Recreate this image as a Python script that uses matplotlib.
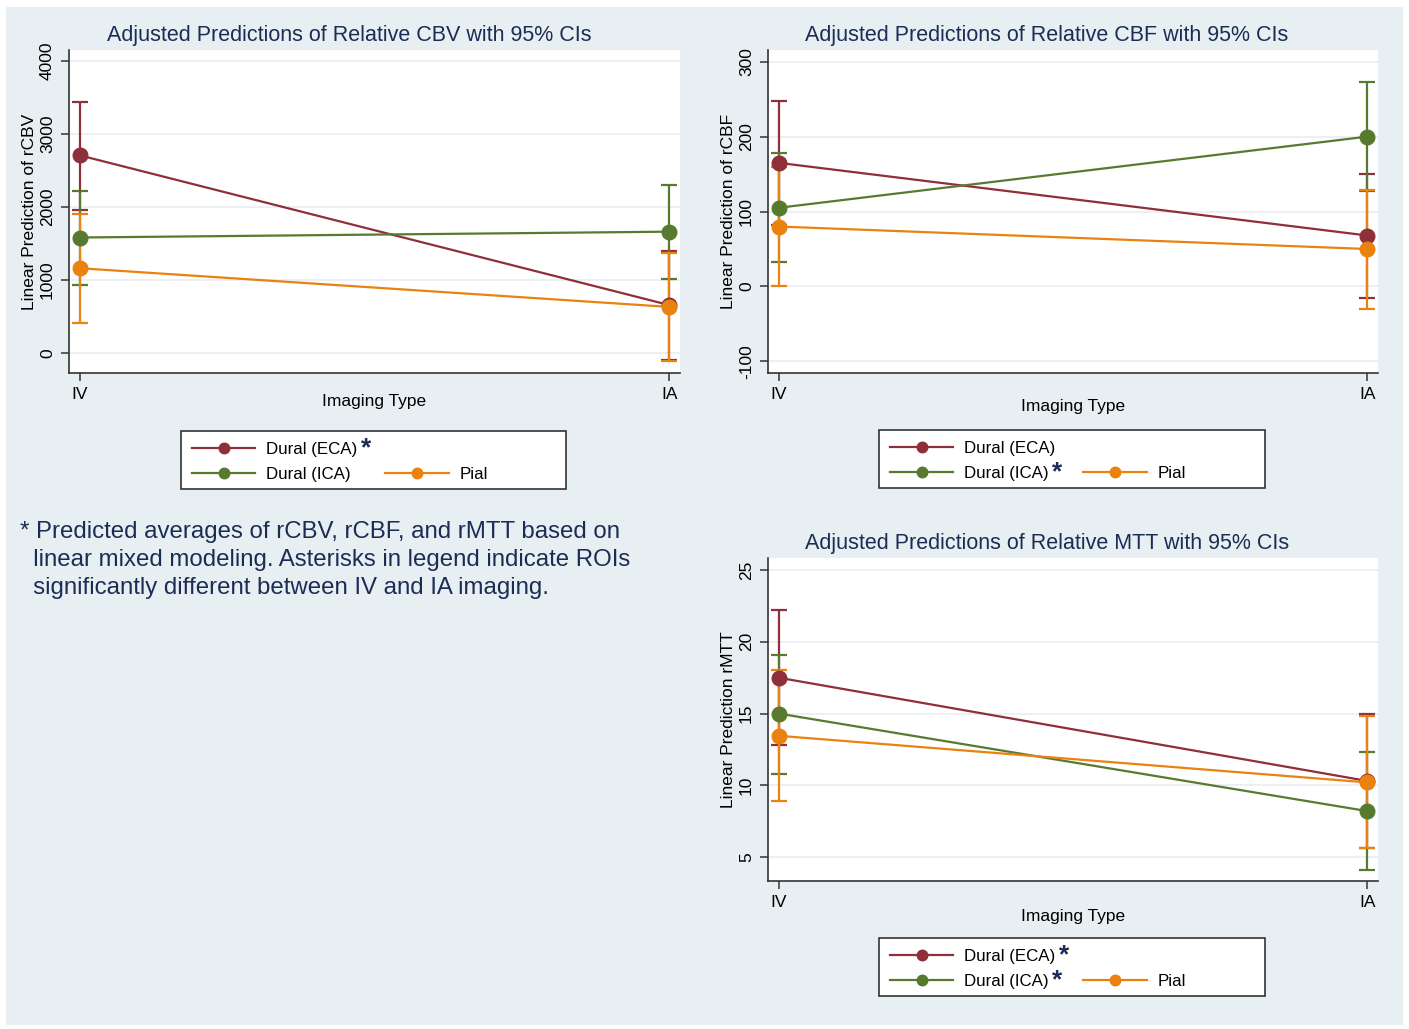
import matplotlib
matplotlib.use("Agg")
import matplotlib.pyplot as plt
from matplotlib.lines import Line2D
from matplotlib.patches import Rectangle

plt.rcParams["font.family"] = ["Liberation Sans", "DejaVu Sans"]

imaging = ["IV", "IA"]
groups = ["Dural (ECA)", "Dural (ICA)", "Pial"]

cbv_mean = {"Dural (ECA)": [2705, 655], "Dural (ICA)": [1580, 1660], "Pial": [1160, 630]}
cbv_lo = {"Dural (ECA)": [1950, -90], "Dural (ICA)": [935, 1010], "Pial": [415, -105]}
cbv_hi = {"Dural (ECA)": [3440, 1400], "Dural (ICA)": [2220, 2295], "Pial": [1905, 1365]}

cbf_mean = {"Dural (ECA)": [165, 68], "Dural (ICA)": [105, 200], "Pial": [80, 50]}
cbf_lo = {"Dural (ECA)": [82, -15], "Dural (ICA)": [33, 128], "Pial": [0, -30]}
cbf_hi = {"Dural (ECA)": [248, 150], "Dural (ICA)": [178, 273], "Pial": [160, 129]}

mtt_mean = {"Dural (ECA)": [17.5, 10.3], "Dural (ICA)": [15.0, 8.2], "Pial": [13.45, 10.2]}
mtt_lo = {"Dural (ECA)": [12.8, 5.6], "Dural (ICA)": [10.8, 4.1], "Pial": [8.9, 5.6]}
mtt_hi = {"Dural (ECA)": [22.2, 15.0], "Dural (ICA)": [19.05, 12.35], "Pial": [18.0, 14.8]}

COLORS = {"Dural (ECA)": "#8e2f3a", "Dural (ICA)": "#587a2e", "Pial": "#ea820f"}
NAVY = "#1c2d55"
BG = "#e7eff2"
W, H = 1409, 1029


def rect(left, top, right, bottom):
    return [left / W, 1 - bottom / H, (right - left) / W, (bottom - top) / H]


def panel(fig, box, means, lows, highs, yticks, ylim, ylabel, xlabelpad):
    ax = fig.add_axes(rect(*box))
    ax.set_zorder(1)
    x = list(range(len(imaging)))
    for g in groups:
        ax.errorbar(x, means[g], yerr=[[m - lo for m, lo in zip(means[g], lows[g])],
                                       [hi - m for m, hi in zip(means[g], highs[g])]],
                    fmt="none", ecolor=COLORS[g], elinewidth=1.6, capsize=6,
                    capthick=1.6, zorder=2)
    for g in groups:
        ax.plot(x, means[g], color=COLORS[g], lw=1.6, marker="o", ms=10.5,
                zorder=3, label=g)
    ax.set_xlim(-0.018, 1.018)
    ax.set_ylim(*ylim)
    ax.set_xticks(x)
    ax.set_xticklabels(imaging, fontsize=12.5)
    ax.set_yticks(yticks)
    ax.set_yticklabels([str(t) for t in yticks], rotation=90, va="center", fontsize=12.5)
    ax.grid(axis="y", color="#e9eef1", lw=1.2)
    ax.set_axisbelow(True)
    for side in ("top", "right"):
        ax.spines[side].set_visible(False)
    for side in ("left", "bottom"):
        ax.spines[side].set_color("#333333")
        ax.spines[side].set_linewidth(1.2)
    ax.tick_params(length=6, width=1.1, color="#333333", pad=4)
    ax.set_xlabel("Imaging Type", fontsize=12.5, labelpad=xlabelpad)
    ax.set_ylabel(ylabel, fontsize=12.5, labelpad=2)
    return ax


def legend(fig, ax, box, starred):
    left, top, right, bottom = box
    fig.patches.append(Rectangle((left / W, 1 - bottom / H), (right - left) / W,
                                 (bottom - top) / H, transform=fig.transFigure,
                                 facecolor="white", edgecolor="#333333", lw=1.2,
                                 zorder=1))
    lines = {l.get_label(): l for l in ax.get_lines()}
    blank = Line2D([], [], color="none")
    handles = [lines["Dural (ECA)"], lines["Dural (ICA)"], blank, lines["Pial"]]
    labels = ["Dural (ECA)", "Dural (ICA)", "", "Pial"]
    leg = fig.legend(handles, labels, loc="upper left",
                     bbox_to_anchor=((left - 1) / W, 1 - (top - 1) / H),
                     ncol=2, frameon=False, fontsize=12.2, handlelength=3.75,
                     handletextpad=0.6, columnspacing=1.69, labelspacing=0.62,
                     borderpad=0.2, markerscale=0.72)
    leg.set_zorder(2)
    return leg, starred


fig = plt.figure(figsize=(W / 100, H / 100), dpi=100)
fig.patch.set_facecolor("white")
fig.patches.append(Rectangle((6 / W, 1 - 1025 / H), 1397 / W, 1018 / H,
                             transform=fig.transFigure, facecolor=BG,
                             edgecolor="none", zorder=-5))

ax1 = panel(fig, (69, 50, 680, 373), cbv_mean, cbv_lo, cbv_hi,
            [0, 1000, 2000, 3000, 4000], (-274, 4146), "Linear Prediction of rCBV", -6)
ax2 = panel(fig, (768, 50, 1378, 373), cbf_mean, cbf_lo, cbf_hi,
            [-100, 0, 100, 200, 300], (-115.5, 315.6), "Linear Prediction of rCBF", -2)
ax3 = panel(fig, (768, 558, 1378, 881), mtt_mean, mtt_lo, mtt_hi,
            [5, 10, 15, 20, 25], (3.33, 25.84), "Linear Prediction rMTT", -1)

titles = [(349, 35, "Adjusted Predictions of Relative CBV with 95% CIs"),
          (1047, 35, "Adjusted Predictions of Relative CBF with 95% CIs"),
          (1047, 544, "Adjusted Predictions of Relative MTT with 95% CIs")]
for tx, ty, txt in titles:
    fig.text(tx / W, 1 - ty / H, txt, ha="center", va="center", fontsize=15.5,
             color=NAVY)

legs = [legend(fig, ax1, (181, 431, 566, 489), ["Dural (ECA)"]),
        legend(fig, ax2, (879, 430, 1265, 488), ["Dural (ICA)"]),
        legend(fig, ax3, (879, 938, 1265, 996), ["Dural (ECA)", "Dural (ICA)"])]

fig.text(20 / W, 1 - 560 / H,
         "* Predicted averages of rCBV, rCBF, and rMTT based on\n"
         "  linear mixed modeling. Asterisks in legend indicate ROIs\n"
         "  significantly different between IV and IA imaging.",
         ha="left", va="center", fontsize=17.3, color=NAVY, linespacing=1.38)

fig.canvas.draw()
renderer = fig.canvas.get_renderer()
inv = fig.transFigure.inverted()
for leg, starred in legs:
    for t in leg.get_texts():
        if t.get_text() in starred:
            bb = t.get_window_extent(renderer)
            x0, y0 = inv.transform((bb.x1 + 4, bb.y1 + 6))
            fig.text(x0, y0, "*", ha="left", va="top", fontsize=19,
                     fontweight="bold", color=NAVY, zorder=5)

fig.savefig("out.png", dpi=100, facecolor="white")
